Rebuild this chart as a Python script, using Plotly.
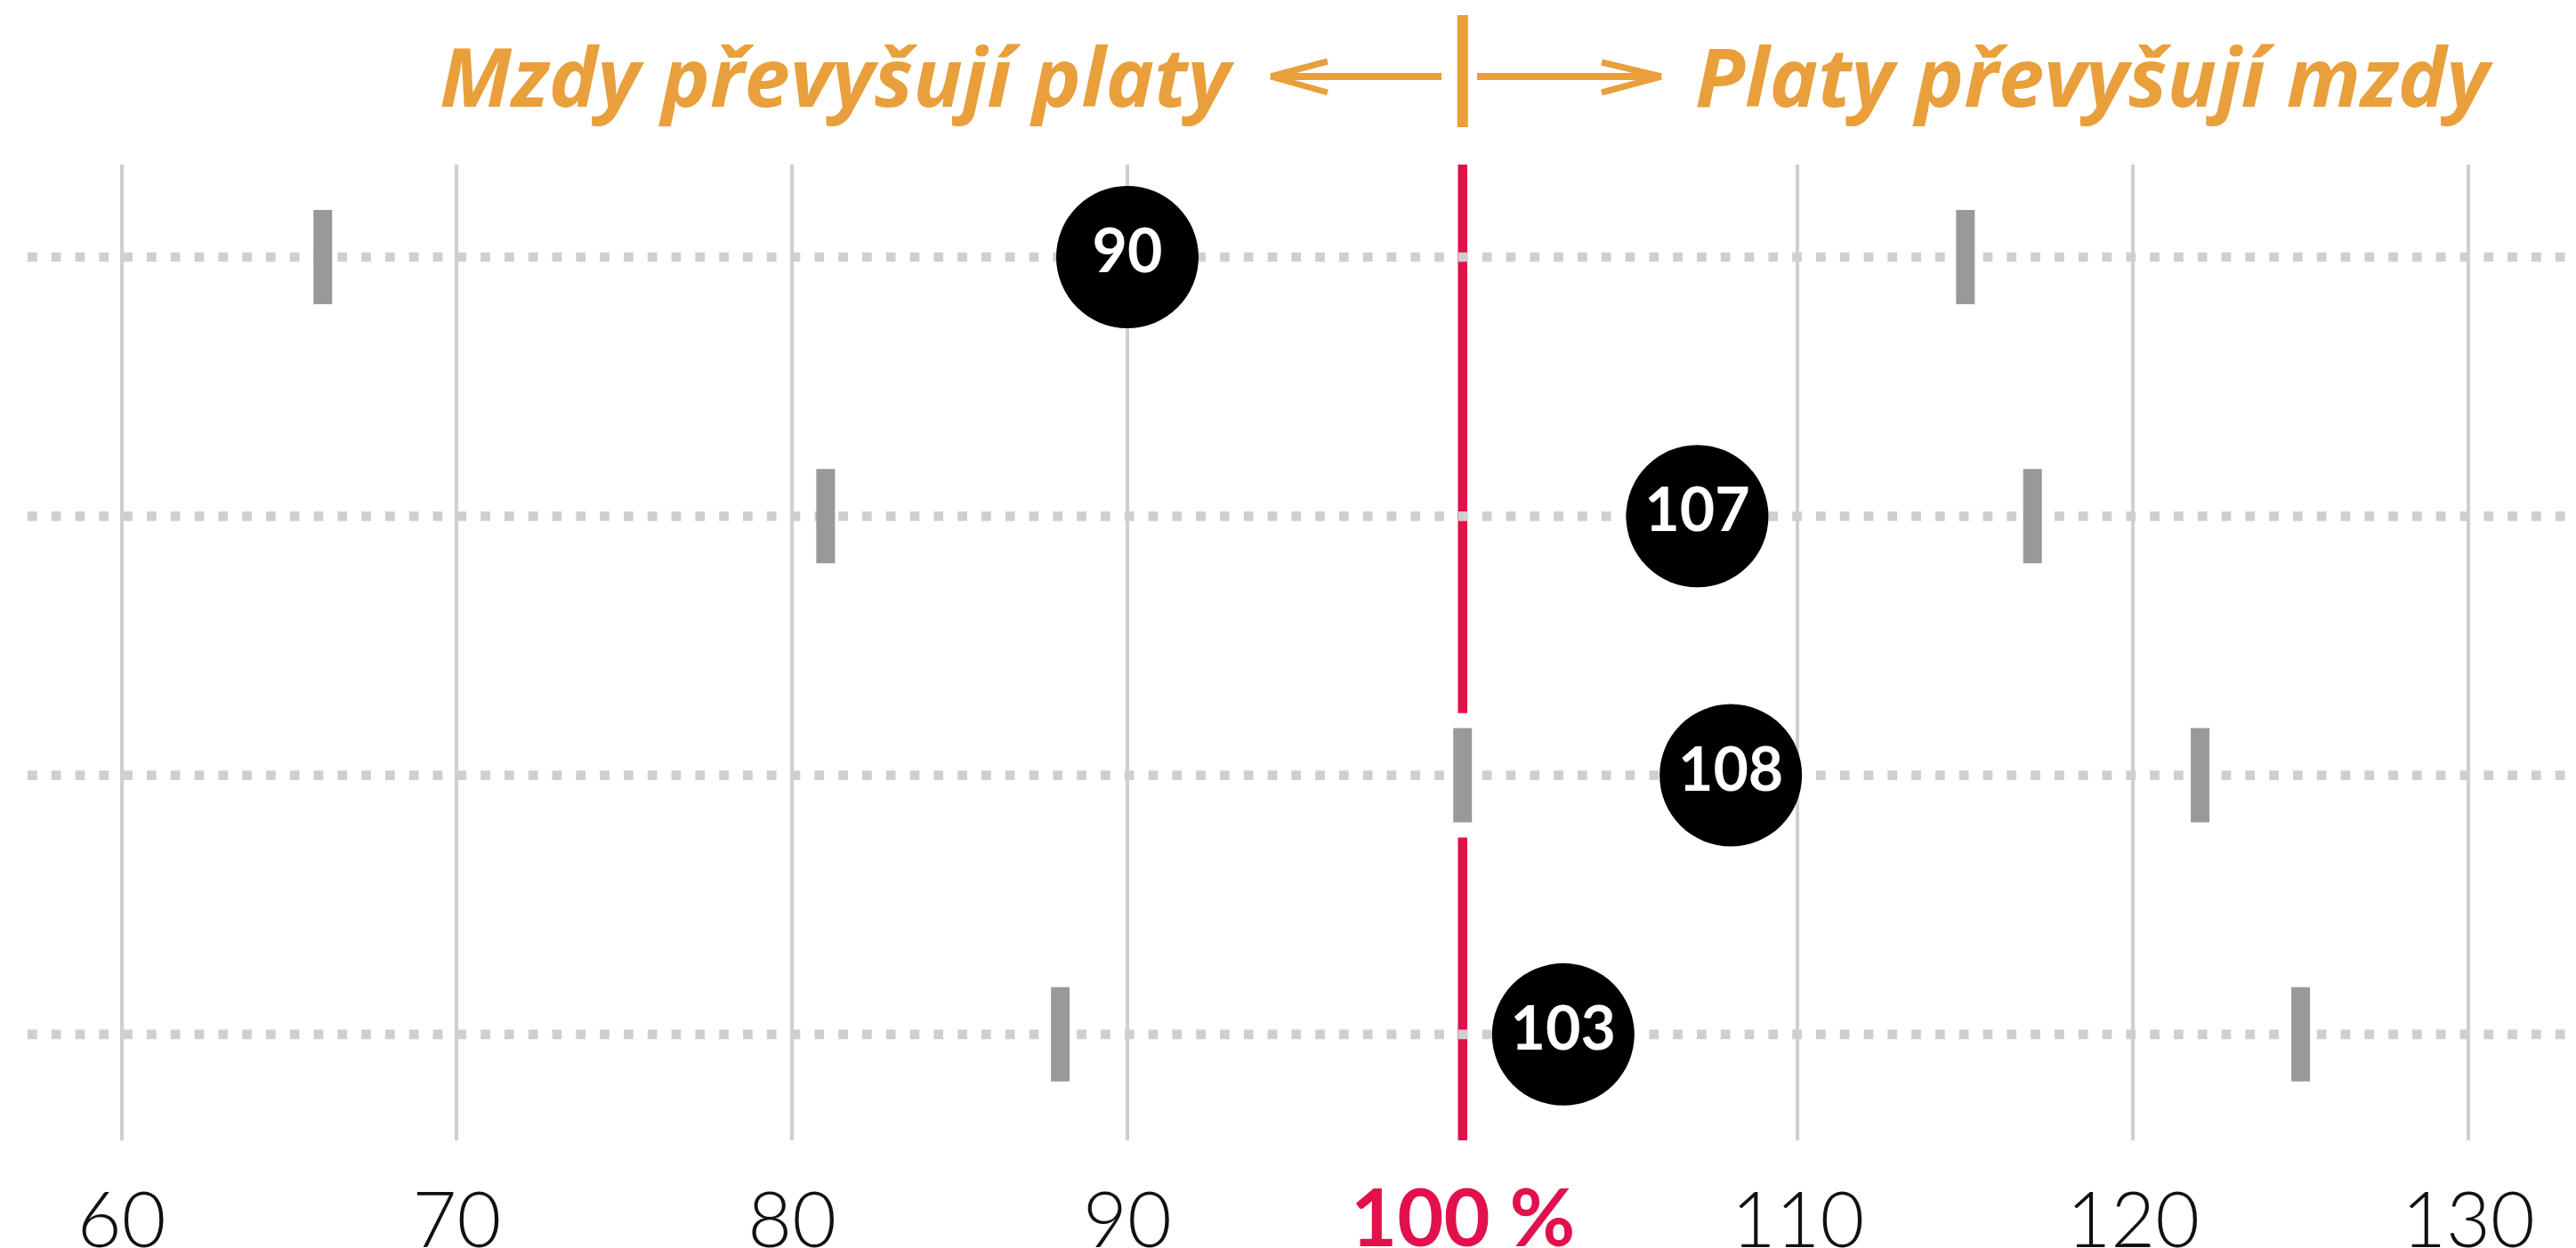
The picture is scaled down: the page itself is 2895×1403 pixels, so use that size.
import plotly.graph_objects as go

# ---- data ----
rows = [0, 1, 2, 3]
low_values = [66, 81, 100, 88]
high_values = [115, 117, 122, 125]
main_values = [90, 107, 108, 103]
tick_values = [60, 70, 80, 90, 110, 120, 130]
tick_labels = ["60", "70", "80", "90", "110", "120", "130"]
reference_value = 100
reference_label = "100 %"
left_title = "Mzdy převyšují platy"
right_title = "Platy převyšují mzdy"

# ---- style ----
OFF = 8  # page body margin
W, H = 2895 - OFF, 1403 - OFF
M_T, M_B = 185 - OFF, 121
X_RANGE = [56.584, 133.212]
Y_RANGE = [3.409, -0.357]
ORANGE = "#E99F3B"
RED = "#E2114B"
GRID = "#cfcfcf"
DOT = "#cfcfcf"
GREY = "#999999"

PLOT_H = H - M_T - M_B
PX_PER_X = W / (X_RANGE[1] - X_RANGE[0])


def px_to_x(p):
    """screen pixel (x) -> data x"""
    return X_RANGE[0] + (p - OFF) / PX_PER_X


def px_to_paper_y(p):
    """screen pixel (y) -> paper y"""
    return (H - M_B - (p - OFF)) / PLOT_H


fig = go.Figure()

# reference line with a gap around row 3's marker
gap = 0.24
fig.add_trace(go.Scatter(
    x=[reference_value, reference_value, None, reference_value, reference_value],
    y=[Y_RANGE[1], 2 - gap, None, 2 + gap, Y_RANGE[0]],
    mode="lines", line=dict(color=RED, width=10.5),
    hoverinfo="skip", showlegend=False))

# dotted row guides
for r in rows:
    fig.add_trace(go.Scatter(
        x=[px_to_x(31), X_RANGE[1]], y=[r, r], mode="lines",
        line=dict(color=DOT, width=10.7, dash="10.7px,16.1px"),
        hoverinfo="skip", showlegend=False))

# grey range markers
fig.add_trace(go.Scatter(
    x=low_values + high_values, y=rows + rows, mode="markers",
    marker=dict(symbol="line-ns", size=106 / 1.4,
                line=dict(color=GREY, width=21)),
    hoverinfo="skip", showlegend=False))

# main values
fig.add_trace(go.Scatter(
    x=main_values, y=rows, mode="markers+text",
    text=[str(v) for v in main_values], textposition="middle center",
    textfont=dict(family="Lato", size=68, color="white", weight=700),
    marker=dict(symbol="circle", size=160, color="black", line=dict(width=0)),
    hoverinfo="skip", showlegend=False))

shapes = []
# header vertical bar
shapes.append(dict(type="line", xref="x", yref="paper",
                   x0=reference_value, x1=reference_value,
                   y0=px_to_paper_y(17), y1=px_to_paper_y(143),
                   line=dict(color=ORANGE, width=12)))
# left arrow
ya = px_to_paper_y(86)
shapes.append(dict(type="line", xref="x", yref="paper",
                   x0=px_to_x(1620), x1=px_to_x(1430), y0=ya, y1=ya,
                   line=dict(color=ORANGE, width=8)))
shapes.append(dict(type="line", xref="x", yref="paper",
                   x0=px_to_x(1428), x1=px_to_x(1492),
                   y0=ya, y1=px_to_paper_y(69), line=dict(color=ORANGE, width=7)))
shapes.append(dict(type="line", xref="x", yref="paper",
                   x0=px_to_x(1428), x1=px_to_x(1492),
                   y0=ya, y1=px_to_paper_y(104), line=dict(color=ORANGE, width=7)))
# right arrow
shapes.append(dict(type="line", xref="x", yref="paper",
                   x0=px_to_x(1660), x1=px_to_x(1865), y0=ya, y1=ya,
                   line=dict(color=ORANGE, width=8)))
shapes.append(dict(type="line", xref="x", yref="paper",
                   x0=px_to_x(1867), x1=px_to_x(1800),
                   y0=ya, y1=px_to_paper_y(70), line=dict(color=ORANGE, width=7)))
shapes.append(dict(type="line", xref="x", yref="paper",
                   x0=px_to_x(1867), x1=px_to_x(1800),
                   y0=ya, y1=px_to_paper_y(104), line=dict(color=ORANGE, width=7)))

annotations = [
    dict(text=left_title, xref="x", yref="paper",
         x=px_to_x(1390), y=px_to_paper_y(84), xanchor="right", yanchor="middle",
         showarrow=False,
         font=dict(family="Open Sans", size=92, color=ORANGE, style="italic", weight=700)),
    dict(text=right_title, xref="x", yref="paper",
         x=px_to_x(1903), y=px_to_paper_y(84), xanchor="left", yanchor="middle",
         showarrow=False,
         font=dict(family="Open Sans", size=92, color=ORANGE, style="italic", weight=700)),
    dict(text=reference_label, xref="x", yref="paper",
         x=reference_value, y=px_to_paper_y(1366), xanchor="center", yanchor="middle",
         showarrow=False,
         font=dict(family="Lato", size=90, color=RED, weight=700)),
]

fig.update_layout(
    width=W, height=H,
    margin=dict(l=0, r=0, t=M_T, b=M_B, pad=0, autoexpand=False),
    paper_bgcolor="white", plot_bgcolor="white",
    shapes=shapes, annotations=annotations,
    xaxis=dict(range=X_RANGE, tickvals=tick_values, ticktext=tick_labels,
               showgrid=True, gridcolor=GRID, gridwidth=4, zeroline=False,
               showline=False, ticks="", ticklabelstandoff=33, automargin=False,
               tickfont=dict(family="Lato", size=86, color="#111111", weight=300)),
    yaxis=dict(range=Y_RANGE, visible=False, showgrid=False, zeroline=False,
               automargin=False),
)

fig.write_html("out.html")
